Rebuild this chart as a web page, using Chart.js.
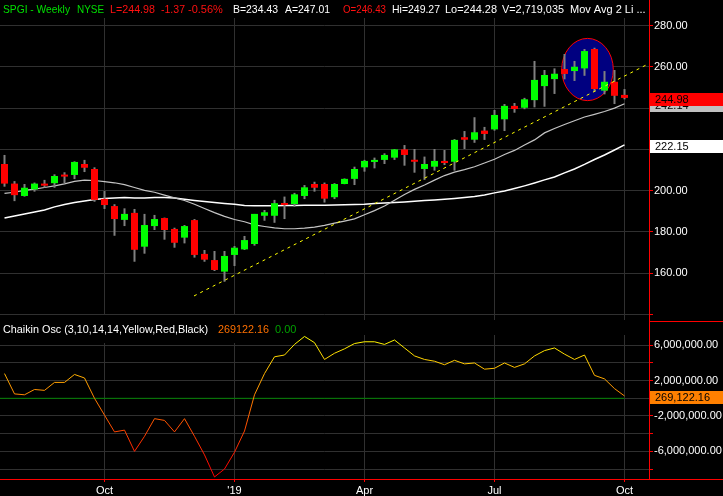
<!DOCTYPE html>
<html>
<head>
<meta charset="utf-8">
<script src="https://cdn.jsdelivr.net/npm/chart.js@4.4.1/dist/chart.umd.min.js"></script>
<style>
  html, body { margin: 0; padding: 0; background: #000; overflow: hidden; }
  #wrap { position: relative; width: 723px; height: 496px; }
  #price { position: absolute; left: 0; top: 0; }
  #osc { position: absolute; left: 0; top: 320px; }
</style>
</head>
<body>
<div id="wrap">
  <canvas id="price" width="723" height="320"></canvas>
  <canvas id="osc" width="723" height="176"></canvas>
</div>
<script>
const FONT = "'Liberation Sans', Arial, sans-serif";

// weekly bars, week start dates
const weeks = [
  '2018-07-23','2018-07-30','2018-08-06','2018-08-13','2018-08-20','2018-08-27','2018-09-03','2018-09-10','2018-09-17','2018-09-24',
  '2018-10-01','2018-10-08','2018-10-15','2018-10-22','2018-10-29','2018-11-05','2018-11-12','2018-11-19','2018-11-26','2018-12-03',
  '2018-12-10','2018-12-17','2018-12-24','2018-12-31','2019-01-07','2019-01-14','2019-01-21','2019-01-28','2019-02-04','2019-02-11',
  '2019-02-18','2019-02-25','2019-03-04','2019-03-11','2019-03-18','2019-03-25','2019-04-01','2019-04-08','2019-04-15','2019-04-22',
  '2019-04-29','2019-05-06','2019-05-13','2019-05-20','2019-05-27','2019-06-03','2019-06-10','2019-06-17','2019-06-24','2019-07-01',
  '2019-07-08','2019-07-15','2019-07-22','2019-07-29','2019-08-05','2019-08-12','2019-08-19','2019-08-26','2019-09-02','2019-09-09',
  '2019-09-16','2019-09-23','2019-09-30'
];

const opens = [
  212.9,203.4,197.4,200.6,203.4,203.6,207.6,207.6,212.9,210.5,
  196.0,192.5,185.8,189.2,172.8,182.8,186.7,181.4,177.2,185.7,
  169.3,166.3,160.7,168.8,171.5,174.1,187.8,187.8,193.9,193.5,
  197.4,203.2,203.2,196.8,203.2,205.7,211.3,213.9,214.9,216.0,
  220.0,214.4,210.5,211.6,214.4,214.0,225.9,224.7,229.1,229.7,
  234.6,241.1,240.2,243.9,250.7,254.1,259.0,258.0,259.3,268.7,
  248.5,252.8,246.43
];
const highs = [
  217.3,204.6,203.2,203.9,205.2,207.9,208.9,214.2,214.9,211.3,
  199.8,193.4,191.4,191.1,188.7,188.2,186.9,182.0,183.3,186.2,
  171.2,170.7,170.7,173.1,178.0,188.7,190.6,195.5,197.1,198.9,
  202.7,204.3,203.9,203.6,205.9,211.6,214.9,216.0,218.1,220.2,
  222.1,220.2,216.5,220.2,219.7,225.0,228.9,235.6,230.9,239.1,
  242.0,242.5,245.0,262.9,258.5,259.3,266.3,262.9,268.7,269.3,
  258.0,258.5,249.27
];
const lows = [
  201.9,194.9,197.1,199.5,201.4,201.4,203.6,205.6,209.0,194.6,
  191.1,178.1,182.8,165.5,169.4,180.9,176.2,172.3,174.4,167.5,
  165.5,161.0,155.8,163.4,171.2,173.3,185.4,184.4,186.2,192.2,
  195.9,199.5,194.2,195.9,203.1,202.7,209.2,210.8,212.9,214.9,
  212.1,208.7,205.2,209.7,212.4,209.7,220.2,223.2,224.6,229.1,
  228.9,237.8,239.5,240.4,240.7,246.9,254.0,253.2,255.7,248.0,
  246.7,242.0,244.28
];
const closes = [
  203.4,197.8,201.4,203.4,202.4,207.1,206.8,213.9,211.1,195.5,
  193.0,186.2,188.7,171.3,183.3,186.2,180.9,174.7,182.8,168.8,
  166.5,161.5,168.3,172.3,176.0,188.7,189.5,193.9,193.0,198.2,
  201.6,201.4,196.1,203.2,205.7,210.5,214.4,214.9,217.3,220.0,
  217.3,214.0,212.9,214.4,213.4,224.6,224.7,228.3,227.5,236.7,
  241.1,239.6,244.3,253.7,256.1,256.7,256.6,260.1,267.7,249.3,
  252.8,246.0,244.98
];

// moving averages (grey = short, white = long)
const maFast = [
  198.7,199.2,200.1,200.7,201.5,202.3,203.3,204.5,205.1,204.9,
  204.4,203.8,202.9,201.5,200.1,199.2,197.8,196.5,195.2,193.4,
  191.3,189.3,187.5,186.0,184.9,183.4,182.6,181.9,181.5,181.5,
  181.8,182.3,183.1,184.2,185.2,186.3,188.3,190.3,192.5,195.3,
  198.1,200.6,202.7,205.1,207.3,209.0,210.2,211.6,213.4,215.2,
  217.5,219.5,222.1,224.6,228.0,230.1,232.1,233.9,235.7,237.0,
  238.4,240.0,242.14
];
const maSlow = [
  186.7,187.7,188.7,189.6,190.6,192.1,193.3,194.2,195.0,195.7,
  196.2,196.4,196.6,196.4,196.4,196.7,196.7,196.4,195.8,195.2,
  194.7,194.2,193.8,193.4,192.8,192.7,192.7,192.7,192.8,192.8,
  192.9,192.9,192.9,193.0,193.1,193.3,193.4,193.8,194.0,194.2,
  194.5,194.8,195.2,195.5,195.8,196.2,196.7,197.2,197.9,198.9,
  199.8,201.0,202.3,203.7,205.2,206.6,208.6,210.5,212.7,215.1,
  217.3,219.7,222.15
];

// Chaikin oscillator
const chaikin = [
  2.8e6,0.5e6,0.4e6,1.0e6,0.9e6,1.8e6,1.8e6,2.7e6,2.3e6,0.0,
  -1.9e6,-3.8e6,-3.6e6,-6.0e6,-4.3e6,-2.3e6,-2.5e6,-3.8e6,-2.3e6,-4.3e6,
  -6.4e6,-8.9e6,-8.0e6,-6.1e6,-3.7e6,0.4e6,2.8e6,4.7e6,4.9e6,6.1e6,
  7.0e6,6.3e6,4.4e6,5.1e6,5.6e6,6.2e6,6.4e6,6.4e6,6.1e6,6.6e6,
  5.7e6,4.8e6,4.4e6,4.2e6,3.8e6,4.3e6,3.9e6,4.0e6,3.3e6,3.4e6,
  4.0e6,3.5e6,3.9e6,4.8e6,5.4e6,5.7e6,5.0e6,4.4e6,4.9e6,2.6e6,
  2.2e6,1.1e6,269122.16
];
const zeroLineX = [-0.45, 62];
const zeroLineY = [0, 0];

// drawn annotations (in week index / price units)
const trendX = [18.95, 64.35];
const trendY = [148.9, 261.4];
const circleCenter = [58.3, 258.75];
const circleRadius = [2.58, 15.1];

// axes
const monthTickWeeks = ['2018-10-01', '2018-12-31', '2019-04-01', '2019-07-01', '2019-09-30'];
const monthTickLabels = ['Oct', "'19", 'Apr', 'Jul', 'Oct'];
const priceTicks = [140, 160, 180, 200, 220, 240, 260, 280];
const oscTicks = [-8e6, -6e6, -4e6, -2e6, 0, 2e6, 4e6, 6e6];
const oscLabelled = [6e6, 2e6, -2e6, -6e6];

const monthTickIdx = monthTickWeeks.map(w => weeks.indexOf(w));
const X_MIN = -0.45, X_MAX = 64.45;
const GRID = '#303030';

function fmtBig(v) {
    return v.toLocaleString('en-US', { minimumFractionDigits: 2, maximumFractionDigits: 2 });
}

function valueBox(ctx, y, text, bg, fg) {
    ctx.fillStyle = bg;
    ctx.fillRect(650, Math.round(y) - 5, 73, 13);
    ctx.fillStyle = fg;
    ctx.font = '11px ' + FONT;
    ctx.textBaseline = 'alphabetic';
    ctx.textAlign = 'left';
    ctx.fillText(text, 655, Math.round(y) + 5);
}

const circlePlugin = {
    id: 'circle',
    beforeDatasetsDraw(chart) {
        const { ctx, scales: { x, y } } = chart;
        const cx = x.getPixelForValue(circleCenter[0]);
        const cy = y.getPixelForValue(circleCenter[1]);
        const rx = x.getPixelForValue(circleCenter[0] + circleRadius[0]) - cx;
        const ry = cy - y.getPixelForValue(circleCenter[1] + circleRadius[1]);
        ctx.save();
        ctx.beginPath();
        ctx.ellipse(cx, cy, rx, ry, 0, 0, Math.PI * 2);
        ctx.fillStyle = '#000080';
        ctx.fill();
        ctx.strokeStyle = '#ff0000';
        ctx.lineWidth = 1;
        ctx.stroke();
        ctx.restore();
    }
};

const priceOverlay = {
    id: 'priceOverlay',
    afterDraw(chart) {
        const { ctx, scales: { y } } = chart;
        ctx.save();
        // header
        ctx.fillStyle = '#000';
        ctx.fillRect(0, 0, 649, 18);
        ctx.fillRect(0, 315, 297, 5);
        ctx.font = '11px ' + FONT;
        ctx.textBaseline = 'alphabetic';
        // text, x, max width
        const parts = [
            ['SPGI - Weekly', 3, 67, '#00e000'],
            ['NYSE', 77, 27, '#00e000'],
            ['L=244.98', 110, 45, '#ff1010'],
            ['-1.37', 161, 24, '#ff1010'],
            ['-0.56%', 188, 38, '#ff1010'],
            ['B=234.43', 233, 45, '#ffffff'],
            ['A=247.01', 285, 45, '#ffffff'],
            ['O=246.43', 343, 43, '#ff1010'],
            ['Hi=249.27', 392, 48, '#ffffff'],
            ['Lo=244.28', 445, 52, '#ffffff'],
            ['V=2,719,035', 502, 62, '#ffffff'],
            ['Mov Avg 2 Li ...', 570, 77, '#ffffff']
        ];
        parts.forEach(p => { ctx.fillStyle = p[3]; ctx.fillText(p[0], p[1], 13, p[2]); });
        // axis line
        ctx.strokeStyle = '#ff0000';
        ctx.lineWidth = 1;
        ctx.beginPath();
        ctx.moveTo(649.5, 0);
        ctx.lineTo(649.5, 320);
        ctx.stroke();
        // value boxes
        const last = closes.length - 1;
        valueBox(ctx, y.getPixelForValue(maFast[last]), maFast[last].toFixed(2), '#c0c0c0', '#000');
        valueBox(ctx, y.getPixelForValue(closes[last]), closes[last].toFixed(2), '#ff0000', '#000');
        valueBox(ctx, y.getPixelForValue(maSlow[last]), maSlow[last].toFixed(2), '#ffffff', '#000');
        ctx.restore();
    }
};

const oscUnder = {
    id: 'oscUnder',
    beforeDatasetsDraw(chart) {
        const { ctx } = chart;
        ctx.save();
        ctx.fillStyle = '#000';
        ctx.fillRect(0, 0, 297, 23);
        ctx.restore();
    }
};

const oscOverlay = {
    id: 'oscOverlay',
    afterDraw(chart) {
        const { ctx, scales: { y } } = chart;
        ctx.save();
        ctx.font = '11px ' + FONT;
        ctx.textBaseline = 'alphabetic';
        const last = chaikin[chaikin.length - 1];
        ctx.fillStyle = '#ffffff';
        ctx.fillText('Chaikin Osc (3,10,14,14,Yellow,Red,Black)', 3, 13, 205);
        ctx.fillStyle = '#ff7000';
        ctx.fillText(last.toFixed(2), 218, 13, 51);
        ctx.fillStyle = '#00a000';
        ctx.fillText('0.00', 275, 13);
        ctx.strokeStyle = '#ff0000';
        ctx.lineWidth = 1;
        ctx.beginPath();
        ctx.moveTo(649.5, 0);
        ctx.lineTo(649.5, 159);
        ctx.moveTo(649, 1.5);
        ctx.lineTo(723, 1.5);
        ctx.moveTo(0, 159.5);
        ctx.lineTo(723, 159.5);
        ctx.stroke();
        valueBox(ctx, y.getPixelForValue(last), fmtBig(last), '#ff8000', '#000');
        ctx.restore();
    }
};

Chart.defaults.font.family = FONT;
Chart.defaults.font.size = 11;
Chart.defaults.color = '#ffffff';

const xCommon = {
    type: 'linear',
    min: X_MIN,
    max: X_MAX,
    offset: false,
    afterBuildTicks: s => { s.ticks = monthTickIdx.map(v => ({ value: v })); }
};

new Chart(document.getElementById('price'), {
    type: 'bar',
    data: {
        datasets: [
            {
                type: 'line',
                data: trendX.map((v, i) => ({ x: v, y: trendY[i] })),
                borderColor: '#ffff00',
                borderWidth: 1,
                borderDash: [3, 4],
                pointRadius: 0,
                order: 0
            },
            {
                data: weeks.map((w, i) => ({ x: i, y: [opens[i], closes[i]] })),
                backgroundColor: closes.map((c, i) => c >= opens[i] ? '#00ff00' : '#ff0000'),
                barThickness: 7,
                minBarLength: 2,
                grouped: false,
                inflateAmount: 0,
                order: 1
            },
            {
                data: weeks.map((w, i) => ({ x: i, y: [lows[i], highs[i]] })),
                backgroundColor: '#808080',
                barThickness: 2,
                grouped: false,
                inflateAmount: 0,
                order: 2
            },
            {
                type: 'line',
                data: weeks.map((w, i) => ({ x: i, y: maFast[i] })),
                borderColor: '#c4c4c4',
                borderWidth: 1.2,
                pointRadius: 0,
                order: 3
            },
            {
                type: 'line',
                data: weeks.map((w, i) => ({ x: i, y: maSlow[i] })),
                borderColor: '#ffffff',
                borderWidth: 1.5,
                pointRadius: 0,
                order: 3
            }
        ]
    },
    options: {
        responsive: false,
        animation: false,
        events: [],
        layout: { padding: { top: 18, left: 0, right: 0, bottom: 0 } },
        plugins: { legend: { display: false }, tooltip: { enabled: false } },
        scales: {
            x: Object.assign({}, xCommon, {
                ticks: { display: false },
                grid: { color: GRID, drawTicks: false, offset: false },
                border: { display: false },
                afterFit: s => { s.height = 0; s.paddingLeft = 0; s.paddingRight = 0; }
            }),
            y: {
                type: 'linear',
                position: 'right',
                min: 137.23,
                max: 283.74,
                beginAtZero: false,
                afterBuildTicks: s => { s.ticks = priceTicks.map(v => ({ value: v })); },
                ticks: {
                    color: '#ffffff',
                    padding: 1,
                    autoSkip: false,
                    callback: v => v === 140 ? '' : v.toFixed(2)
                },
                grid: { color: GRID, tickColor: '#ff0000', tickLength: 4 },
                border: { color: '#ff0000' },
                afterFit: s => { s.width = 74; s.paddingTop = 0; s.paddingBottom = 0; }
            }
        }
    },
    plugins: [circlePlugin, priceOverlay]
});

new Chart(document.getElementById('osc'), {
    type: 'line',
    data: {
        datasets: [
            {
                data: weeks.map((w, i) => ({ x: i, y: chaikin[i] })),
                borderWidth: 1,
                pointRadius: 0,
                borderColor: ctx => {
                    const chart = ctx.chart;
                    if (!chart.chartArea) return '#ff8000';
                    const y = chart.scales.y;
                    const g = chart.ctx.createLinearGradient(0, y.getPixelForValue(7e6), 0, y.getPixelForValue(-8e6));
                    g.addColorStop(0, '#ffff00');
                    g.addColorStop(0.467, '#ff8000');
                    g.addColorStop(1, '#ff0000');
                    return g;
                },
                order: 0
            },
            {
                data: zeroLineX.map((v, i) => ({ x: v, y: zeroLineY[i] })),
                borderColor: '#008000',
                borderWidth: 1,
                pointRadius: 0,
                order: 1
            }
        ]
    },
    options: {
        responsive: false,
        animation: false,
        events: [],
        layout: { padding: { top: 15, left: 0, right: 0, bottom: 0 } },
        plugins: { legend: { display: false }, tooltip: { enabled: false } },
        scales: {
            x: Object.assign({}, xCommon, {
                ticks: {
                    color: '#ffffff',
                    padding: 2,
                    autoSkip: false,
                    maxRotation: 0,
                    callback: v => monthTickLabels[monthTickIdx.indexOf(v)]
                },
                grid: { color: GRID, tickColor: '#ff0000', tickLength: 3, offset: false },
                border: { color: '#ff0000' },
                afterFit: s => { s.height = 17; s.paddingLeft = 0; s.paddingRight = 0; }
            }),
            y: {
                type: 'linear',
                position: 'right',
                min: -9.13e6,
                max: 7.166e6,
                afterBuildTicks: s => { s.ticks = oscTicks.map(v => ({ value: v })); },
                ticks: {
                    color: '#ffffff',
                    padding: 1,
                    autoSkip: false,
                    callback: v => oscLabelled.includes(v) ? fmtBig(v) : ''
                },
                grid: { color: GRID, tickColor: '#ff0000', tickLength: 4 },
                border: { color: '#ff0000' },
                afterFit: s => { s.width = 74; s.paddingTop = 0; s.paddingBottom = 0; }
            }
        }
    },
    plugins: [oscUnder, oscOverlay]
});
</script>
</body>
</html>
